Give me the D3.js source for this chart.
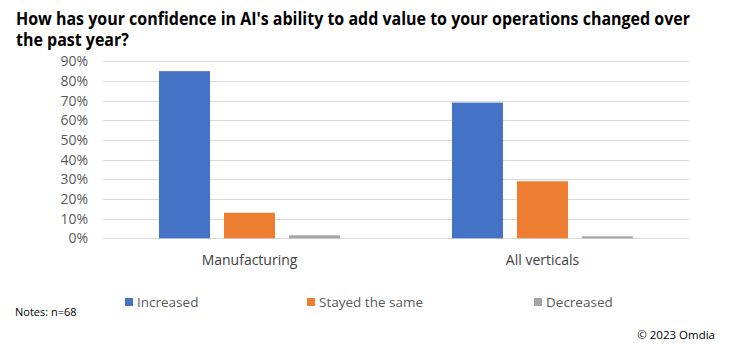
<!DOCTYPE html>
<html>
<head>
<meta charset="utf-8">
<script src="https://cdn.jsdelivr.net/npm/d3@7"></script>
<style>
  html, body { margin: 0; padding: 0; background: #fff; }
  svg { display: block; font-family: "Open Sans", "Noto Sans", sans-serif; }
</style>
</head>
<body>
<svg id="chart" width="750" height="345"></svg>
<script>
// ---- Data ----
const titleLines = [
  "How has your confidence in AI's ability to add value to your operations changed over",
  "the past year?"
];
const categories = ["Manufacturing", "All verticals"];
const seriesNames = ["Increased", "Stayed the same", "Decreased"];
const increased = [85, 69];
const stayedSame = [13, 29];
const decreased = [1.5, 1];
const yTicks = [0, 10, 20, 30, 40, 50, 60, 70, 80, 90];
const colors = ["#4472C4", "#ED7D31", "#A5A5A5"];
const noteText = "Notes: n=68";
const sourceText = "© 2023 Omdia";

const seriesValues = [increased, stayedSame, decreased];

const svg = d3.select("#chart");

// ---- Title ----
const titleG = svg.append("g").attr("font-weight", "bold").attr("font-size", 17).attr("fill", "#000");
const t1 = titleG.append("text").attr("x", 16).attr("y", 25).text(titleLines[0]);
const t2 = titleG.append("text").attr("x", 16).attr("y", 46).text(titleLines[1]);
const targetW = 674;
const w1 = t1.node().getComputedTextLength();
if (w1 > targetW) {
  const f = targetW / w1;
  const w2 = t2.node().getComputedTextLength();
  t1.attr("textLength", targetW).attr("lengthAdjust", "spacingAndGlyphs");
  t2.attr("textLength", w2 * f).attr("lengthAdjust", "spacingAndGlyphs");
}

// ---- Scales ----
const plotLeft = 103, plotRight = 689, plotTop = 61.3, plotBottom = 238.3;
const y = d3.scaleLinear().domain([0, 90]).range([plotBottom, plotTop]);
const x0 = d3.scaleBand().domain(categories).range([plotLeft, plotRight]).paddingInner(0).paddingOuter(0);
const x1 = d3.scaleBand().domain(seriesNames).range([0, x0.bandwidth()]).paddingInner(0.215).paddingOuter(0.861);
const color = d3.scaleOrdinal().domain(seriesNames).range(colors);

// ---- Gridlines ----
svg.append("g").selectAll("line").data(yTicks).join("line")
  .attr("x1", plotLeft).attr("x2", plotRight)
  .attr("y1", d => Math.round(y(d)) + 0.5).attr("y2", d => Math.round(y(d)) + 0.5)
  .attr("stroke", "#D9D9D9").attr("stroke-width", 1);

// ---- Y axis labels ----
const yAxis = d3.axisLeft(y).tickValues(yTicks).tickSize(0).tickPadding(0).tickFormat(d => d + "%");
const yAxisG = svg.append("g").attr("transform", "translate(88,0)").call(yAxis);
yAxisG.select(".domain").remove();
yAxisG.selectAll("text").attr("font-size", 14).attr("fill", "#595959")
  .attr("font-family", "'Open Sans', 'Noto Sans', sans-serif");

// ---- Bars ----
const rows = categories.map((c, i) => ({
  category: c,
  values: seriesNames.map((s, j) => ({ series: s, value: seriesValues[j][i] }))
}));
svg.append("g").selectAll("g").data(rows).join("g")
  .attr("transform", d => `translate(${x0(d.category)},0)`)
  .selectAll("rect").data(d => d.values).join("rect")
  .attr("x", d => x1(d.series))
  .attr("width", x1.bandwidth())
  .attr("y", d => y(d.value))
  .attr("height", d => y(0) - y(d.value))
  .attr("fill", d => color(d.series));

// ---- X axis (category labels) ----
const xAxis = d3.axisBottom(x0).tickSize(0).tickPadding(0);
const xAxisG = svg.append("g").attr("transform", `translate(0,${plotBottom})`).call(xAxis);
xAxisG.select(".domain").remove();
xAxisG.selectAll("text").attr("font-size", 14).attr("fill", "#404040")
  .attr("dy", null).attr("y", 27)
  .attr("font-family", "'Open Sans', 'Noto Sans', sans-serif");

// ---- Legend ----
const legendX = [125, 307, 534];
const legend = svg.append("g").selectAll("g").data(seriesNames).join("g")
  .attr("transform", (d, i) => `translate(${legendX[i]},298)`);
legend.append("rect").attr("width", 8).attr("height", 8).attr("fill", d => color(d));
legend.append("text").attr("x", 12).attr("y", 9).attr("font-size", 13.5).attr("fill", "#595959").text(d => d);

// ---- Notes & source ----
svg.append("text").attr("x", 15).attr("y", 316).attr("font-size", 11).attr("fill", "#000").text(noteText);
svg.append("text").attr("x", 715).attr("y", 339).attr("text-anchor", "end").attr("font-size", 11.5).attr("fill", "#000").text(sourceText);
</script>
</body>
</html>
